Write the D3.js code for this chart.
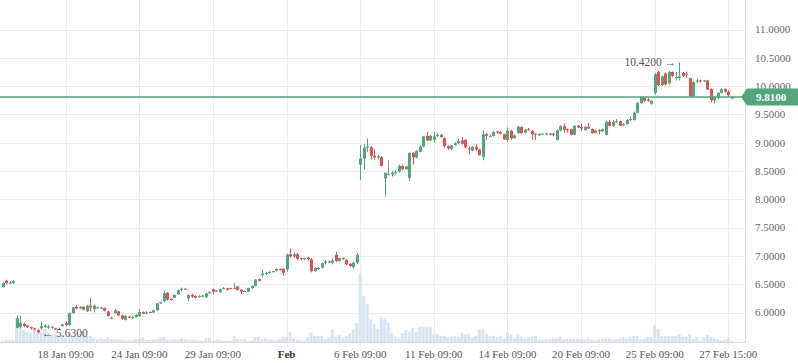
<!DOCTYPE html>
<html>
<head>
<meta charset="utf-8">
<script src="https://cdn.jsdelivr.net/npm/d3@7"></script>
<style>
body { margin: 0; background: #fff; }
svg { display: block; font-family: "Liberation Serif", "Times New Roman", serif; }
</style>
</head>
<body>
<div id="chart"></div>
<script>
// candles, one per bar
const open = [6.45,6.56,6.52,6.52,5.73,5.75,5.80,5.77,5.74,5.72,
  5.69,5.72,5.74,5.74,5.73,5.72,5.70,5.76,5.81,5.78,
  5.99,6.10,6.07,6.10,6.02,6.12,6.06,6.08,6.07,6.08,
  6.02,5.89,5.99,6.02,5.95,5.87,5.93,5.91,5.92,5.94,
  6.01,6.00,6.01,6.00,6.04,6.16,6.20,6.35,6.24,6.26,
  6.32,6.40,6.42,6.25,6.31,6.29,6.28,6.28,6.27,6.34,
  6.41,6.39,6.36,6.42,6.43,6.43,6.43,6.46,6.40,6.38,
  6.37,6.43,6.47,6.59,6.66,6.69,6.70,6.72,6.74,6.77,
  6.77,6.76,7.03,6.99,7.03,6.96,6.95,6.97,6.94,6.73,
  6.79,6.79,6.88,6.90,6.88,7.02,6.91,6.96,6.93,6.86,
  6.80,6.88,8.61,8.72,8.91,8.92,8.77,8.74,8.75,8.37,
  8.45,8.44,8.46,8.49,8.59,8.53,8.38,8.82,8.74,8.84,
  8.93,9.12,9.04,9.05,9.12,9.14,9.08,8.94,8.89,8.96,
  8.99,9.04,9.05,8.90,8.86,8.93,8.88,8.75,9.15,9.12,
  9.12,9.20,9.19,9.15,9.05,9.21,9.08,9.17,9.28,9.18,
  9.24,9.21,9.16,9.14,9.15,9.15,9.16,9.16,9.05,9.22,
  9.29,9.24,9.24,9.14,9.30,9.28,9.22,9.28,9.24,9.17,
  9.22,9.20,9.14,9.37,9.30,9.37,9.38,9.31,9.33,9.40,
  9.40,9.53,9.70,9.79,9.76,9.69,9.88,10.25,10.02,10.22,
  10.05,10.25,10.14,10.14,10.23,10.22,10.14,9.82,10.08,10.10,
  10.09,10.10,9.95,9.75,9.79,9.88,9.95,9.90,9.78]
const high = [6.54,6.58,6.56,6.57,5.95,5.94,5.82,5.78,5.75,5.73,
  5.70,5.84,5.79,5.78,5.76,5.73,5.73,5.80,5.84,6.00,
  6.10,6.13,6.11,6.11,6.13,6.25,6.14,6.10,6.10,6.09,
  6.03,5.93,6.06,6.03,5.96,5.95,5.94,5.95,5.97,6.06,
  6.02,6.02,6.02,6.05,6.17,6.19,6.38,6.36,6.25,6.32,
  6.40,6.44,6.43,6.32,6.33,6.30,6.31,6.31,6.35,6.37,
  6.42,6.40,6.42,6.45,6.44,6.44,6.52,6.47,6.41,6.39,
  6.44,6.48,6.59,6.60,6.76,6.72,6.73,6.74,6.78,6.78,
  6.78,7.04,7.13,7.06,7.05,6.97,6.97,6.98,6.96,6.80,
  6.80,6.88,6.93,6.92,6.96,7.07,6.97,6.97,6.94,6.87,
  6.89,7.05,8.96,8.97,9.08,8.94,8.88,8.79,8.76,8.47,
  8.69,8.50,8.52,8.61,8.61,8.59,8.83,8.83,8.87,8.96,
  9.12,9.19,9.14,9.19,9.17,9.15,9.10,8.95,8.96,9.01,
  9.07,9.10,9.06,8.93,8.94,8.97,8.89,9.22,9.17,9.15,
  9.20,9.21,9.20,9.16,9.27,9.23,9.14,9.30,9.29,9.24,
  9.26,9.22,9.17,9.17,9.17,9.17,9.17,9.18,9.23,9.31,
  9.34,9.25,9.25,9.31,9.31,9.33,9.30,9.35,9.25,9.23,
  9.24,9.25,9.39,9.40,9.40,9.42,9.39,9.35,9.42,9.46,
  9.55,9.72,9.82,9.81,9.79,9.75,10.23,10.27,10.19,10.24,
  10.27,10.26,10.25,10.42,10.25,10.26,10.15,10.09,10.13,10.11,
  10.11,10.11,9.96,9.81,9.89,9.96,9.96,9.92,9.82]
const low = [6.44,6.50,6.50,6.51,5.72,5.72,5.74,5.73,5.70,5.69,
  5.63,5.70,5.72,5.71,5.71,5.69,5.69,5.75,5.76,5.77,
  5.98,6.05,6.06,6.04,6.01,6.02,6.00,6.07,6.06,6.02,
  5.93,5.88,5.98,5.94,5.87,5.86,5.90,5.89,5.91,5.92,
  5.97,5.97,5.99,5.99,6.03,6.15,6.18,6.21,6.21,6.25,
  6.31,6.37,6.40,6.20,6.26,6.25,6.26,6.27,6.26,6.33,
  6.32,6.37,6.35,6.41,6.39,6.41,6.42,6.39,6.33,6.36,
  6.36,6.42,6.46,6.55,6.62,6.66,6.69,6.71,6.73,6.74,
  6.65,6.72,6.97,6.96,6.93,6.92,6.93,6.92,6.71,6.72,
  6.75,6.78,6.85,6.87,6.85,6.89,6.90,6.93,6.84,6.81,
  6.78,6.86,8.34,8.52,8.84,8.70,8.70,8.70,8.58,8.05,
  8.42,8.40,8.44,8.47,8.52,8.52,8.32,8.61,8.72,8.83,
  8.92,9.03,9.03,9.00,9.10,9.09,8.92,8.87,8.87,8.95,
  8.97,8.97,8.90,8.79,8.85,8.85,8.77,8.69,9.05,9.10,
  9.11,9.16,9.15,9.05,9.02,9.05,9.07,9.16,9.16,9.16,
  9.21,9.05,9.05,9.12,9.13,9.13,9.13,9.11,9.04,9.20,
  9.18,9.18,9.13,9.13,9.26,9.21,9.21,9.24,9.16,9.16,
  9.15,9.19,9.13,9.29,9.28,9.35,9.29,9.29,9.32,9.38,
  9.39,9.52,9.68,9.72,9.72,9.67,9.85,10.00,10.00,10.01,
  10.03,10.16,10.10,10.10,10.16,10.15,9.81,9.81,10.05,10.06,
  10.07,9.93,9.72,9.69,9.77,9.87,9.89,9.81,9.77]
const close = [6.52,6.52,6.53,6.55,5.90,5.82,5.76,5.74,5.72,5.70,
  5.65,5.76,5.77,5.75,5.75,5.70,5.71,5.79,5.78,5.99,
  6.09,6.07,6.10,6.05,6.12,6.09,6.12,6.09,6.09,6.03,
  5.94,5.91,6.04,5.95,5.89,5.94,5.91,5.92,5.96,6.01,
  5.98,6.00,6.00,6.04,6.16,6.18,6.34,6.23,6.22,6.31,
  6.39,6.42,6.40,6.31,6.28,6.26,6.29,6.30,6.34,6.36,
  6.37,6.38,6.41,6.43,6.40,6.42,6.43,6.40,6.37,6.37,
  6.43,6.47,6.58,6.56,6.69,6.70,6.72,6.73,6.77,6.75,
  6.70,7.02,6.99,7.03,6.95,6.95,6.96,6.94,6.73,6.79,
  6.77,6.87,6.90,6.89,6.92,6.91,6.96,6.94,6.85,6.82,
  6.88,7.02,8.72,8.91,8.93,8.77,8.74,8.76,8.59,8.47,
  8.45,8.47,8.48,8.59,8.53,8.58,8.82,8.74,8.85,8.93,
  9.11,9.04,9.12,9.11,9.14,9.10,8.94,8.90,8.95,8.99,
  9.03,8.98,8.92,8.88,8.93,8.88,8.78,9.15,9.12,9.12,
  9.19,9.18,9.16,9.06,9.21,9.08,9.13,9.28,9.17,9.23,
  9.23,9.15,9.15,9.15,9.16,9.16,9.15,9.14,9.22,9.29,
  9.23,9.22,9.14,9.30,9.27,9.25,9.28,9.25,9.17,9.22,
  9.20,9.24,9.37,9.30,9.37,9.38,9.30,9.33,9.40,9.42,
  9.53,9.70,9.80,9.74,9.74,9.74,10.21,10.02,10.17,10.03,
  10.25,10.18,10.16,10.17,10.18,10.20,9.82,10.07,10.10,10.09,
  10.10,9.94,9.75,9.80,9.88,9.94,9.90,9.84,9.81]
const volume = [17,20,17,23,240,190,120,100,87,120,
  90,100,127,100,70,87,60,70,37,87,
  53,60,70,100,60,60,43,27,37,27,
  47,27,33,27,20,13,20,20,27,37,
  43,20,20,27,27,47,53,20,20,27,
  27,37,27,20,20,20,13,13,40,40,
  13,20,20,10,13,13,60,33,27,27,
  13,13,50,50,37,37,20,20,20,27,
  53,53,103,37,20,13,13,47,93,60,
  60,60,30,40,127,53,70,43,63,87,
  127,187,687,460,377,227,177,127,247,247,
  193,93,50,43,87,120,103,143,97,153,
  153,153,153,80,80,60,60,47,53,60,
  53,93,77,80,47,60,120,127,80,60,
  60,47,60,37,93,70,37,80,47,37,
  47,53,60,27,20,27,27,37,37,53,
  27,33,33,33,33,33,27,37,27,20,
  27,33,37,37,27,33,33,47,37,53,
  60,60,27,33,47,47,170,127,60,60,
  60,60,60,77,53,53,77,33,53,13,
  47,70,53,37,27,13,20,37,10]

const tickIndex = [18, 39, 60, 81, 102, 123, 144, 165, 186, 207]
const tickLabels = ["18 Jan 09:00", "24 Jan 09:00", "29 Jan 09:00", "Feb", "6 Feb 09:00",
  "11 Feb 09:00", "14 Feb 09:00", "20 Feb 09:00", "25 Feb 09:00", "27 Feb 15:00"]
const monthTicks = ["Feb"]
const priceTicks = [6.0, 6.5, 7.0, 7.5, 8.0, 8.5, 9.0, 9.5, 10.0, 10.5, 11.0]
const lastPrice = 9.81

const width = 798, height = 363
const paneRight = 746, paneBottom = 342
const upColor = "#53a57c", downColor = "#e05252", flatColor = "#8a8a8a"
const gridColor = "#ececec", borderColor = "#d9d9d9"

let x = d3.scaleLinear().domain([18, 207]).range([65.7, 728.3])
let y = d3.scaleLinear().domain([6, 11]).range([312.5, 29.5])
let yVol = d3.scaleLinear().domain([0, d3.max(volume)]).range([paneBottom, paneBottom - 68.7])

const svg = d3.select("#chart").append("svg")
    .attr("width", width)
    .attr("height", height)

svg.append("clipPath").attr("id", "pane")
    .append("rect").attr("x", 0).attr("y", 0).attr("width", paneRight).attr("height", paneBottom)

//// grid
let grid = svg.append("g")
grid.selectAll("line.h").data(priceTicks).join("line")
    .attr("class", "h")
    .attr("x1", 0).attr("x2", paneRight)
    .attr("y1", d => Math.round(y(d)) + 0.5).attr("y2", d => Math.round(y(d)) + 0.5)
    .attr("stroke", gridColor)
grid.selectAll("line.v").data(tickIndex).join("line")
    .attr("class", "v")
    .attr("x1", d => Math.round(x(d)) + 0.5).attr("x2", d => Math.round(x(d)) + 0.5)
    .attr("y1", 0).attr("y2", paneBottom + 5)
    .attr("stroke", gridColor)

let pane = svg.append("g").attr("clip-path", "url(#pane)")

//// volume histogram
let idx = d3.range(close.length)
pane.selectAll("rect.vol").data(idx).join("rect")
    .attr("class", "vol")
    .attr("x", i => x(i) - 1.5)
    .attr("width", 3)
    .attr("y", i => yVol(volume[i]))
    .attr("height", i => paneBottom - yVol(volume[i]))
    .attr("fill", "#d7e3f0")

//// candles
function candleColor(i) {
    if (close[i] > open[i]) return upColor
    if (close[i] < open[i]) return downColor
    return flatColor
}
let candles = pane.selectAll("g.candle").data(idx).join("g").attr("class", "candle")
candles.append("rect")
    .attr("x", i => Math.round(x(i)))
    .attr("width", 1)
    .attr("y", i => y(high[i]))
    .attr("height", i => Math.max(1, y(low[i]) - y(high[i])))
    .attr("fill", candleColor)
candles.append("rect")
    .attr("x", i => Math.round(x(i)) - 1)
    .attr("width", 3)
    .attr("y", i => y(Math.max(open[i], close[i])))
    .attr("height", i => Math.max(1, Math.abs(y(open[i]) - y(close[i]))))
    .attr("fill", candleColor)

//// last price line
let ly = Math.round(y(lastPrice))
svg.append("line")
    .attr("x1", 0).attr("x2", paneRight)
    .attr("y1", ly).attr("y2", ly)
    .attr("stroke", upColor)
    .attr("stroke-width", 1.3)

//// min / max markers
let iMin = d3.minIndex(low), iMax = d3.maxIndex(high)
svg.append("text")
    .attr("x", x(iMin) + 4).attr("y", y(low[iMin])).attr("dy", "0.35em")
    .attr("font-size", 11.5).attr("fill", "#555")
    .text("\u2190 " + d3.format(".4f")(low[iMin]))
svg.append("text")
    .attr("x", x(iMax) - 3).attr("y", y(high[iMax])).attr("dy", "0.35em")
    .attr("text-anchor", "end")
    .attr("font-size", 11.5).attr("fill", "#555")
    .text(d3.format(".4f")(high[iMax]) + " \u2192")

//// borders
svg.append("line").attr("x1", paneRight - 0.5).attr("x2", paneRight - 0.5)
    .attr("y1", 0).attr("y2", paneBottom).attr("stroke", borderColor)
svg.append("line").attr("x1", 0).attr("x2", paneRight)
    .attr("y1", paneBottom + 0.5).attr("y2", paneBottom + 0.5).attr("stroke", borderColor)

//// price scale labels
svg.append("g").selectAll("text").data(priceTicks).join("text")
    .attr("x", 755).attr("y", d => y(d)).attr("dy", "0.35em")
    .attr("font-size", 11).attr("fill", "#666")
    .text(d => d3.format(".4f")(d))

//// last price tag
let ty = ly
svg.append("path")
    .attr("d", `M${paneRight - 5},${ty} L${paneRight + 1},${ty - 8.5} L${width},${ty - 8.5} L${width},${ty + 8.5} L${paneRight + 1},${ty + 8.5} Z`)
    .attr("fill", upColor)
svg.append("text")
    .attr("x", 756).attr("y", ty).attr("dy", "0.35em")
    .attr("font-size", 11).attr("font-weight", "bold").attr("fill", "#fff")
    .text(d3.format(".4f")(lastPrice))

//// time scale labels
svg.append("g").selectAll("text").data(tickIndex).join("text")
    .attr("x", d => x(d)).attr("y", 354).attr("dy", "0.35em")
    .attr("text-anchor", "middle")
    .attr("font-size", 11)
    .attr("font-weight", (d, k) => monthTicks.includes(tickLabels[k]) ? "bold" : "normal")
    .attr("fill", (d, k) => monthTicks.includes(tickLabels[k]) ? "#333" : "#555")
    .text((d, k) => tickLabels[k])
</script>
</body>
</html>
